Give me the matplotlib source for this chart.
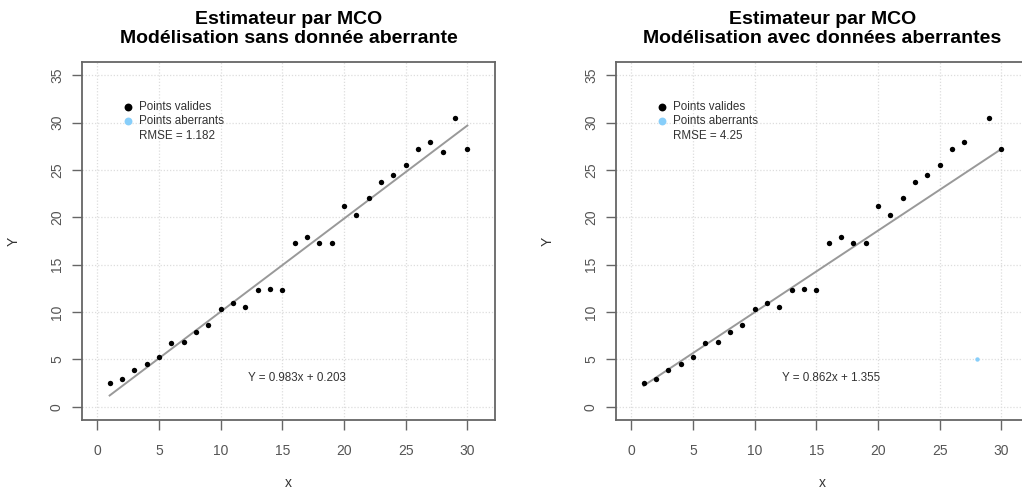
import matplotlib
matplotlib.use("Agg")
import matplotlib.pyplot as plt
import numpy as np

# ---- data ----
x_vals = list(range(1, 31))
y_vals = [2.5, 2.9, 3.9, 4.5, 5.2, 6.7, 6.8, 7.85, 8.6, 10.3,
          11.0, 10.5, 12.3, 12.4, 12.3, 17.3, 17.9, 17.3, 17.3, 21.2,
          20.2, 22.0, 23.7, 24.5, 25.5, 27.2, 28.0, 26.85, 30.5, 27.2]
outlier_x = [28]
outlier_y = [5.0]
slopes = [0.983, 0.862]
intercepts = [0.203, 1.355]
rmse_labels = ["RMSE = 1.182", "RMSE = 4.25"]
eq_labels = ["Y = 0.983x + 0.203", "Y = 0.862x + 1.355"]
titles = ["Estimateur par MCO\nModélisation sans donnée aberrante",
          "Estimateur par MCO\nModélisation avec données aberrantes"]
xticks = [0, 5, 10, 15, 20, 25, 30]
yticks = [0, 5, 10, 15, 20, 25, 30, 35]

plt.rcParams['font.family'] = ['Liberation Sans', 'DejaVu Sans']

W, H = 1022, 492
fig = plt.figure(figsize=(W / 100, H / 100), dpi=100)

panels = [(82, 62, 495, 420), (616, 62, 1029, 420)]
tick_col = '#555555'
box_col = '#666666'

for i, (l, t, r, b) in enumerate(panels):
    ax = fig.add_axes([l / W, 1 - b / H, (r - l) / W, (b - t) / H])
    ax.set_xlim(-1.24, 32.24)
    ax.set_ylim(-1.4, 36.4)
    ax.set_xticks(xticks)
    ax.set_yticks(yticks)
    ax.grid(True, color='#dddddd', linestyle=(0, (1, 1.5)), linewidth=0.9)
    ax.set_axisbelow(True)
    for s in ax.spines.values():
        s.set_color(box_col)
        s.set_linewidth(1.3)
    ax.tick_params(axis='both', length=7, width=1.0, color=box_col,
                   labelcolor=tick_col, labelsize=10)
    ax.tick_params(axis='x', pad=10)
    ax.tick_params(axis='y', pad=6)
    for lab in ax.get_yticklabels():
        lab.set_rotation(90)
        lab.set_va('center')

    if i == 0:
        xs, ys = x_vals, y_vals
    else:
        xs = [xv for xv in x_vals if xv not in outlier_x]
        ys = [yv for xv, yv in zip(x_vals, y_vals) if xv not in outlier_x]
    ax.scatter(xs, ys, s=15, color='black', zorder=3, linewidths=0)
    if i == 1:
        ax.scatter(outlier_x, outlier_y, s=10, color='#87cefa', zorder=3, linewidths=0)

    xl = np.array([min(x_vals), max(x_vals)])
    ax.plot(xl, slopes[i] * xl + intercepts[i], color='#999999', linewidth=1.4, zorder=2)

    # legend (R style, no box)
    lx_m, lx_t = 2.5, 3.4
    ax.scatter([lx_m], [31.6], s=32, color='black', clip_on=False, zorder=4, linewidths=0)
    ax.scatter([lx_m], [30.15], s=32, color='#87cefa', clip_on=False, zorder=4, linewidths=0)
    ax.text(lx_t, 31.6, "Points valides", fontsize=8.4, color='#333333', va='center')
    ax.text(lx_t, 30.15, "Points aberrants", fontsize=8.4, color='#333333', va='center')
    ax.text(lx_t, 28.55, rmse_labels[i], fontsize=8.4, color='#333333', va='center')

    ax.text(16.2, 3.05, eq_labels[i], fontsize=8.4, color='#333333', ha='center', va='center')

    ax.set_title(titles[i], fontsize=14, fontweight='bold', pad=14, linespacing=1.1)
    ax.set_xlabel("x", fontsize=10, color='#333333', labelpad=13)
    ax.set_ylabel("Y", fontsize=10, color='#333333', labelpad=21)

fig.savefig("out.png", dpi=100)
